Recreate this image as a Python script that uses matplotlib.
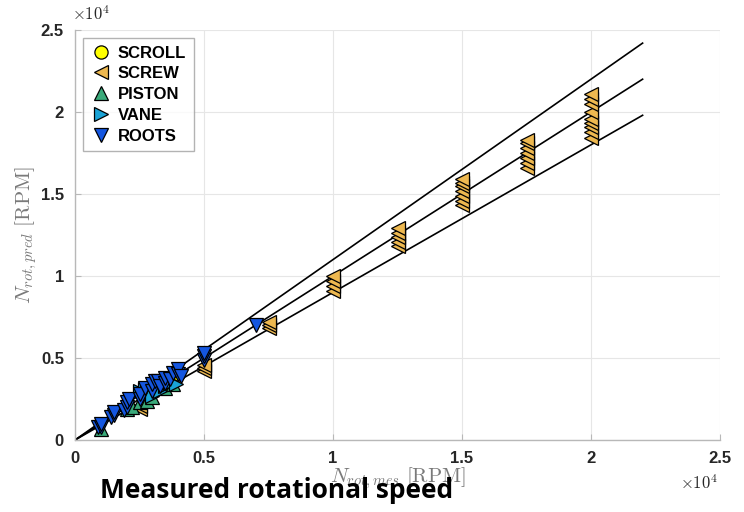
import matplotlib
matplotlib.use("Agg")
import matplotlib.pyplot as plt
import numpy as np

plt.rcParams['mathtext.fontset'] = 'cm'

# ---- data (RPM) ----
scroll_x = [2000, 3000, 4000]
scroll_y = [2050, 3050, 4000]

screw_x = [2500, 2500, 5000, 5000, 5000,
           7500, 7500, 7500,
           10000, 10000, 10000, 10000,
           12500, 12500, 12500, 12500, 12500,
           15000, 15000, 15000, 15000, 15000, 15000, 15000,
           17500, 17500, 17500, 17500, 17500, 17500, 17500,
           20000, 20000, 20000, 20000, 20000, 20000, 20000, 20000, 20000]
screw_y = [1900, 2100, 4200, 4400, 4600,
           6800, 7000, 7200,
           9100, 9400, 9700, 10000,
           11800, 12100, 12400, 12600, 12900,
           14300, 14600, 14900, 15200, 15500, 15700, 15900,
           16600, 16900, 17200, 17500, 17800, 18100, 18300,
           18400, 18800, 19100, 19300, 19600, 20000, 20500, 20800, 21100]

piston_x = [1000, 2000, 2200, 2500, 2800, 3000, 3500, 3800]
piston_y = [700, 1900, 2000, 2300, 2400, 2600, 3200, 3400]

vane_x = [2500, 2700, 2800, 3000, 3000, 3200, 3300, 3500, 3600, 3700, 3900]
vane_y = [3000, 3100, 2900, 3200, 2700, 3300, 3000, 3300, 3600, 3500, 3400]

roots_x = [900, 1000, 1000, 1400, 1500, 1500, 1900, 2000, 2000, 2100,
           2500, 2500, 2700, 3000, 3000, 3100, 3200, 3300, 3500, 3500,
           3700, 3800, 4000, 4000, 4100, 5000, 5000, 5000, 7000]
roots_y = [800, 800, 1000, 1400, 1500, 1700, 1800, 2000, 2300, 2500,
           2500, 2800, 3200, 3000, 3400, 3600, 3600, 3300, 3500, 3800,
           3700, 4100, 4000, 4300, 3900, 4900, 5100, 5300, 7000]

line_factors = [1.1, 1.0, 0.9]
line_xmax = 22000

xticks = [0, 5000, 10000, 15000, 20000, 25000]
xticklabels = ['0', '0.5', '1', '1.5', '2', '2.5']
yticks = [0, 5000, 10000, 15000, 20000, 25000]
yticklabels = ['0', '0.5', '1', '1.5', '2', '2.5']

fig = plt.figure(figsize=(7.44, 5.12), dpi=100)
ax = fig.add_axes([75/744, 1-440/512, 645/744, 410/512])

ms = 9.5
kw = dict(linestyle='none', markeredgecolor='black', markeredgewidth=0.9, markersize=ms)
ax.plot(scroll_x, scroll_y, marker='o', markerfacecolor='#FFFF00', label='SCROLL', **kw)
ax.plot(screw_x, screw_y, marker='<', markerfacecolor='#EDB850', label='SCREW', **kw)
ax.plot(piston_x, piston_y, marker='^', markerfacecolor='#3AAA7A', label='PISTON', **kw)
ax.plot(vane_x, vane_y, marker='>', markerfacecolor='#1AA3D6', label='VANE', **kw)
ax.plot(roots_x, roots_y, marker='v', markerfacecolor='#1456E0', label='ROOTS', **kw)

for f in line_factors:
    ax.plot([0, line_xmax], [0, f * line_xmax], color='black', lw=1.2, zorder=1)

ax.set_xlim(0, 25000)
ax.set_ylim(0, 25000)
ax.set_xticks(xticks)
ax.set_xticklabels(xticklabels)
ax.set_yticks(yticks)
ax.set_yticklabels(yticklabels)
ax.grid(True, color='#e6e6e6', lw=0.8)
ax.set_axisbelow(True)
for s in ['top', 'right']:
    ax.spines[s].set_visible(False)
for s in ['left', 'bottom']:
    ax.spines[s].set_color('#b8b8b8')
    ax.spines[s].set_linewidth(1.0)
ax.tick_params(direction='in', length=4, color='#b8b8b8', labelcolor='#262626',
               labelsize=12, pad=8)
for lab in ax.get_xticklabels() + ax.get_yticklabels():
    lab.set_fontweight('bold')
    lab.set_family('Liberation Sans')

ax.set_xlabel(r'$N_{rot,mes}\ \mathrm{[RPM]}$', fontsize=15, color='#7a7a7a', labelpad=-1)
ax.set_ylabel(r'$N_{rot,pred}\ \mathrm{[RPM]}$', fontsize=15, color='#7a7a7a', labelpad=1)

fig.text(72/744, 1-14/512, r'$\times\mathbf{10^4}$', fontsize=12, color='#262626',
         va='center', ha='left', family='Liberation Sans')
fig.text(680/744, 1-483/512, r'$\times\mathbf{10^4}$', fontsize=12, color='#262626',
         va='center', ha='left', family='Liberation Sans')

leg = ax.legend(loc='upper left', bbox_to_anchor=(8/645, 1-8/410), borderaxespad=0,
                frameon=True, fancybox=False, edgecolor='#a0a0a0', handletextpad=0.35,
                borderpad=0.45, labelspacing=0.35, handlelength=1.3,
                prop={'family': 'Liberation Sans', 'weight': 'bold', 'size': 12})
leg.get_frame().set_linewidth(1.0)

fig.text(100/744, 1-491/512, 'Measured rotational speed', fontsize=19,
         fontweight='bold', family='Open Sans', color='black', va='center', ha='left')

fig.savefig('out.png', dpi=100)
